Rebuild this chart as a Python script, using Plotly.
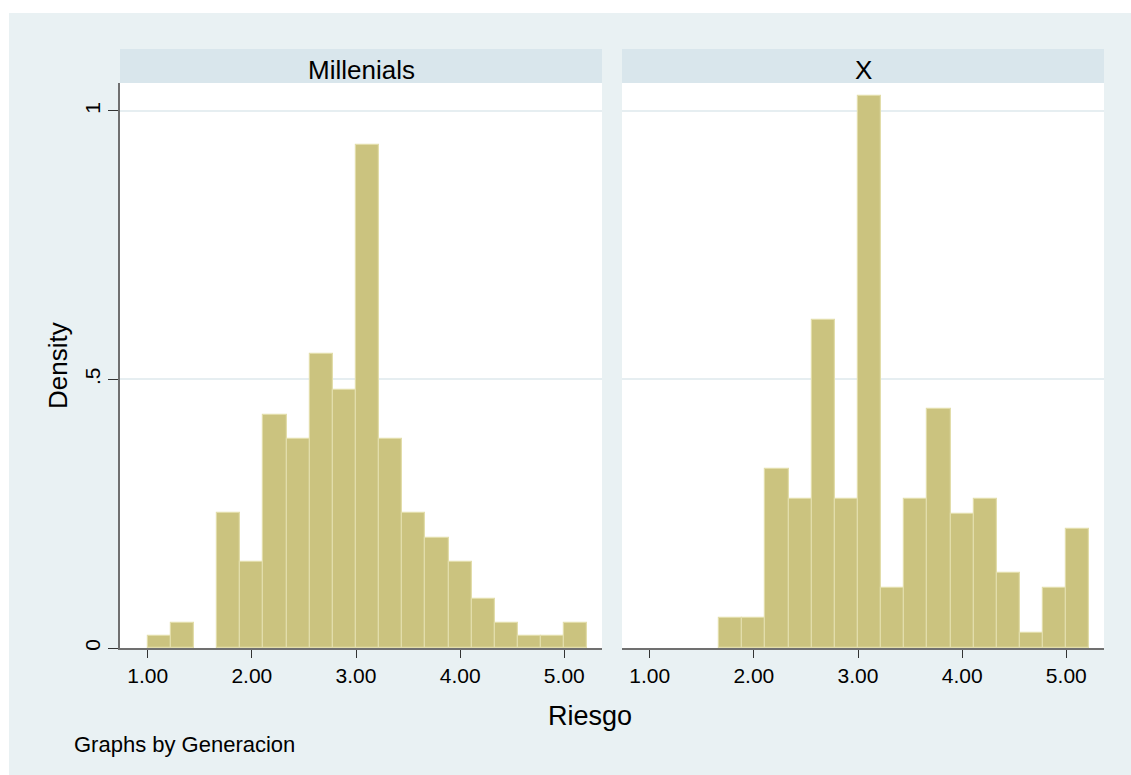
import numpy as np
import plotly.graph_objects as go

# Histogram of Riesgo by Generacion (bin counts per panel)
bin_start = 1.0
bin_width = 2 / 9
millenials_counts = [1, 2, 0, 11, 7, 19, 17, 24, 21, 41, 17, 11, 9, 7, 4, 2, 1, 1, 2]
x_counts = [0, 0, 0, 2, 2, 12, 10, 22, 10, 37, 4, 10, 16, 9, 10, 5, 1, 4, 8]
panel_titles = ["Millenials", "X"]
x_tickvals = [1, 2, 3, 4, 5]
x_ticktext = ["1.00", "2.00", "3.00", "4.00", "5.00"]
y_tickvals = [0, 0.5, 1]
y_ticktext = ["0", ".5", "1"]

W, H = 1131, 775
ML, MR, MT, MB = 120, 27, 49, 127
PW, PH = W - ML - MR, H - MT - MB

BG = "#E9F1F3"
STRIP = "#D9E6EC"
BAR = "#CBC37F"
BAR_EDGE = "#E2DDAA"
GRID = "#E6EEF1"
AXIS = "#707070"
FONT = "Liberation Sans, Arial, sans-serif"


def px_x(p):
    return (p - ML) / PW


def px_y(p):
    return (H - MB - p) / PH


def density(counts):
    # empty bins are left undrawn so no outline shows on the baseline
    n = sum(counts)
    return [c / (n * bin_width) if c > 0 else None for c in counts]


centers = bin_start + (np.arange(len(millenials_counts)) + 0.5) * bin_width

fig = go.Figure()
for i, counts in enumerate([millenials_counts, x_counts]):
    fig.add_trace(go.Bar(
        x=centers,
        y=density(counts),
        width=bin_width,
        marker=dict(color=BAR, line=dict(color=BAR_EDGE, width=1.2)),
        xaxis="x" if i == 0 else "x2",
        yaxis="y" if i == 0 else "y2",
        showlegend=False,
        hoverinfo="skip",
    ))

y_top = px_y(83)
left_dom = [0, px_x(602)]
right_dom = [px_x(622), 1]
xrange = [0.734, 5.362]
yrange = [0, 1.052]

xaxis_common = dict(
    range=xrange, tickmode="array", tickvals=x_tickvals, ticktext=x_ticktext,
    ticks="outside", ticklen=8, tickwidth=1.2, tickcolor="#333333",
    showline=True, linecolor=AXIS, linewidth=1.6, showgrid=False, zeroline=False,
    tickfont=dict(family=FONT, size=21, color="#000000"), fixedrange=True,
)
yaxis_common = dict(
    range=yrange, tickmode="array", tickvals=y_tickvals, ticktext=y_ticktext,
    showgrid=True, gridcolor=GRID, gridwidth=1.5, zeroline=False,
    domain=[0, y_top], fixedrange=True,
)

fig.update_layout(
    width=W, height=H,
    margin=dict(l=ML, r=MR, t=MT, b=MB, pad=0),
    paper_bgcolor=BG, plot_bgcolor="#FFFFFF",
    bargap=0,
    xaxis=dict(domain=left_dom, anchor="y", **xaxis_common),
    xaxis2=dict(domain=right_dom, anchor="y2", **xaxis_common),
    yaxis=dict(anchor="x", ticks="outside", ticklen=10, tickwidth=1.2, tickcolor="#333333",
               showline=True, linecolor=AXIS, linewidth=1.6, tickangle=-90,
               tickfont=dict(family=FONT, size=21, color="#000000"), **yaxis_common),
    yaxis2=dict(anchor="x2", showticklabels=False, ticks="", showline=False, **yaxis_common),
    font=dict(family=FONT, color="#000000"),
)

shapes = []
# outer white frame
shapes.append(dict(type="rect", xref="paper", yref="paper", layer="above",
                   x0=px_x(0), x1=px_x(W), y0=px_y(13), y1=px_y(0),
                   fillcolor="#FFFFFF", line=dict(width=0)))
shapes.append(dict(type="rect", xref="paper", yref="paper", layer="above",
                   x0=px_x(0), x1=px_x(9), y0=px_y(H), y1=px_y(0),
                   fillcolor="#FFFFFF", line=dict(width=0)))
# panel header strips
for dom in (left_dom, right_dom):
    shapes.append(dict(type="rect", xref="paper", yref="paper", layer="above",
                       x0=dom[0], x1=dom[1], y0=y_top, y1=1,
                       fillcolor=STRIP, line=dict(width=0)))
fig.update_layout(shapes=shapes)

annotations = []
for dom, title in zip((left_dom, right_dom), panel_titles):
    annotations.append(dict(text=title, x=(dom[0] + dom[1]) / 2, y=px_y(70),
                            xref="paper", yref="paper", showarrow=False,
                            xanchor="center", yanchor="middle",
                            font=dict(family=FONT, size=26, color="#000000")))
annotations.append(dict(text="Riesgo", x=px_x(590), y=px_y(716), xref="paper", yref="paper",
                        showarrow=False, xanchor="center", yanchor="middle",
                        font=dict(family=FONT, size=27, color="#000000")))
annotations.append(dict(text="Density", x=px_x(58), y=px_y(366), xref="paper", yref="paper",
                        showarrow=False, xanchor="center", yanchor="middle", textangle=-90,
                        font=dict(family=FONT, size=26, color="#000000")))
annotations.append(dict(text="Graphs by Generacion", x=px_x(72), y=px_y(744),
                        xref="paper", yref="paper", showarrow=False,
                        xanchor="left", yanchor="middle",
                        font=dict(family=FONT, size=22, color="#000000")))
fig.update_layout(annotations=annotations)

fig.write_html("out.html")
